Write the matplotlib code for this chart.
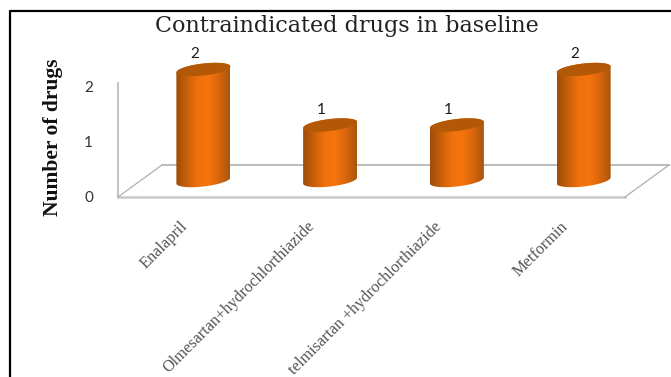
import matplotlib
matplotlib.use('Agg')
import matplotlib.pyplot as plt
from matplotlib.patches import Polygon
from matplotlib.colors import LinearSegmentedColormap
from matplotlib.transforms import Affine2D
import numpy as np

categories = ['Enalapril', 'Olmesartan+hydrochlorthiazide',
              'telmisartan +hydrochlorthiazide', 'Metformin']
counts = [2, 1, 1, 2]
y_ticks = [0, 1, 2]

W, H = 671, 377
AX_L, AX_R, AX_B = 118, 625, 197
Y_UNIT = 55.5  # pixels per drug
Y_TOP = 2.8
WALL_TOP = 2.05
DEPTH_X, DEPTH_Y = 44, 32   # floor depth in pixels
BAR_A, BAR_B, BAR_K = 27, 6, 3  # cylinder half width, ellipse height, tilt

orange = LinearSegmentedColormap.from_list(
    'orange', ['#a04c08', '#c9600a', '#ef700d', '#f5740d', '#d9660c', '#a9560f'])


def cylinder(ax, i, v, trans, ux, uy):
    # outline in data units so the height comes straight from the value
    lo = np.linspace(np.pi, 2 * np.pi, 40)
    hi = np.linspace(0, np.pi, 40)
    xs = np.r_[BAR_A * np.cos(lo), BAR_A * np.cos(hi)] * ux + i
    ys = np.r_[(BAR_B * np.sin(lo) + BAR_K * np.cos(lo)) * uy,
               v + (BAR_B * np.sin(hi) + BAR_K * np.cos(hi)) * uy]
    body = Polygon(np.c_[xs, ys], closed=True, fc='none', ec='none',
                   transform=trans, zorder=3)
    ax.add_patch(body)
    grad = np.linspace(0, 1, 64).reshape(1, -1)
    im = ax.imshow(grad, cmap=orange, aspect='auto', zorder=3, transform=trans,
                   extent=[i - BAR_A * ux, i + BAR_A * ux, -0.3, v + 0.3])
    im.set_clip_path(body)
    t = np.linspace(0, 2 * np.pi, 80)
    ax.fill(i + BAR_A * np.cos(t) * ux,
            v + (BAR_B * np.sin(t) + BAR_K * np.cos(t)) * uy,
            fc='#b25806', ec='none', transform=trans, zorder=4)


def main():
    fig = plt.figure(figsize=(W / 100, H / 100), dpi=100)
    ax = fig.add_axes([AX_L / W, 1 - AX_B / H, (AX_R - AX_L) / W, Y_TOP * Y_UNIT / H])
    ax.set_xlim(-0.5, 3.5)
    ax.set_ylim(0, Y_TOP)
    ux = 4 / (AX_R - AX_L)
    uy = 1 / Y_UNIT

    # floor and wall
    back = ax.transData + Affine2D().translate(DEPTH_X, DEPTH_Y)
    mid = ax.transData + Affine2D().translate(DEPTH_X / 2, DEPTH_Y / 2 + 0.5)
    ax.plot([-0.5, 3.5], [0, 0], color='#c9c9c9', lw=1.8, clip_on=False, zorder=2)
    ax.plot([-0.5, 3.5], [0, 0], color='#b5b5b5', lw=1.3, clip_on=False,
            transform=back, zorder=2)
    ax.plot([-0.5, -0.5], [0, WALL_TOP], color='#c4c4c4', lw=1.5, clip_on=False, zorder=2)
    for xe in (-0.5, 3.5):
        ax.plot([xe, xe + DEPTH_X * ux], [0, DEPTH_Y * uy], color='#b0b0b0', lw=0.9,
                clip_on=False, zorder=2)

    for i, v in enumerate(counts):
        cylinder(ax, i, v, mid, ux, uy)
        ax.annotate(str(v), xy=(i, v), xytext=(13, 32), textcoords='offset pixels',
                    ha='center', va='center', fontsize=11, family='Lato',
                    color='#1a1a1a', annotation_clip=False)
        ax.annotate(categories[i], xy=(i, 0), xytext=(4, -27), textcoords='offset pixels',
                    ha='right', va='center', rotation=45, rotation_mode='anchor',
                    fontsize=11.7, family='Liberation Serif', color='#555555',
                    annotation_clip=False)

    ax.set_xticks([])
    ax.set_yticks(y_ticks)
    ax.tick_params(axis='y', length=0, pad=18, labelsize=11, labelcolor='#333333')
    for lab in ax.get_yticklabels():
        lab.set_family('Lato')
    for s in ax.spines.values():
        s.set_visible(False)
    ax.patch.set_alpha(0)

    fig.text(347 / W, 1 - 26 / H, 'Contraindicated drugs in baseline', ha='center',
             va='center', fontsize=16, family='DejaVu Serif', color='#222222')
    fig.text(53 / W, 1 - 137 / H, 'Number of drugs', rotation=90, ha='center',
             va='center', fontsize=15.5, fontweight='bold', family='Liberation Serif',
             color='#111111')

    # chart frame: top and left edges only
    fig.add_artist(plt.Line2D([9.5 / W, 9.5 / W, 1], [0, 1 - 11 / H, 1 - 11 / H],
                              color='black', lw=1.6))
    fig.savefig('out.png', dpi=100)


if __name__ == '__main__':
    main()
